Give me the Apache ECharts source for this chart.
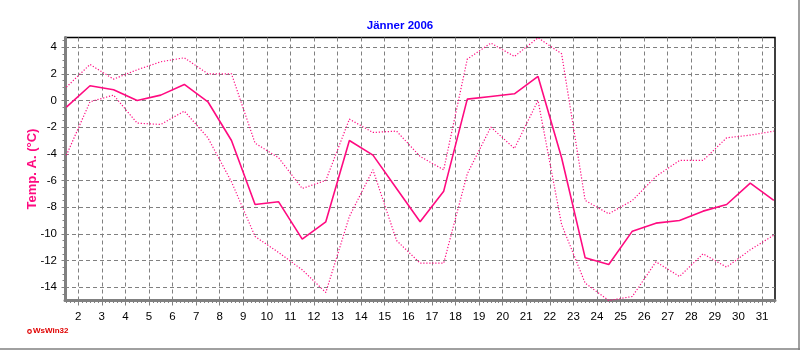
<!DOCTYPE html>
<html>
<head>
<meta charset="utf-8">
<script src="https://cdn.jsdelivr.net/npm/echarts@6/dist/echarts.min.js"></script>
<style>
  html, body { margin: 0; padding: 0; background: #fff; }
  #chart { width: 800px; height: 350px; }
</style>
</head>
<body>
<div id="chart"></div>
<script>
// Tag im Januar 2006 (Messwert jeweils Tagesmitte)
const days = [1, 2, 3, 4, 5, 6, 7, 8, 9, 10, 11, 12, 13, 14, 15, 16, 17, 18, 19, 20, 21, 22, 23, 24, 25, 26, 27, 28, 29, 30, 31]
// Temperatur aussen, Mittel / Max / Min (°C)
const tempMean = [-0.5, 1.1, 0.8, 0.0, 0.4, 1.2, -0.1, -3.0, -7.8, -7.6, -10.4, -9.1, -3.0, -4.1, -6.6, -9.1, -6.8, 0.1, 0.3, 0.5, 1.8, -4.3, -11.8, -12.3, -9.8, -9.2, -9.0, -8.3, -7.8, -6.2, -7.5]
const tempMax = [1.0, 2.7, 1.6, 2.3, 2.9, 3.2, 2.0, 2.0, -3.2, -4.3, -6.6, -6.0, -1.4, -2.4, -2.3, -4.2, -5.2, 3.1, 4.3, 3.3, 4.7, 3.5, -7.5, -8.5, -7.5, -5.7, -4.5, -4.5, -2.8, -2.6, -2.3]
const tempMin = [-4.1, -0.1, 0.4, -1.7, -1.8, -0.8, -2.8, -6.1, -10.2, -11.4, -12.7, -14.4, -8.7, -5.2, -10.5, -12.2, -12.2, -5.5, -2.0, -3.6, 0.0, -9.3, -13.7, -15.0, -14.7, -12.1, -13.2, -11.5, -12.5, -11.2, -10.1]

// Achsenbeschriftung
const xTickLabels = [2, 3, 4, 5, 6, 7, 8, 9, 10, 11, 12, 13, 14, 15, 16, 17, 18, 19, 20, 21, 22, 23, 24, 25, 26, 27, 28, 29, 30, 31]
const yTickLabels = [-14, -12, -10, -8, -6, -4, -2, 0, 2, 4]

const X_MIN = 1.44
const X_MAX = 31.55
const Y_MIN = -15
const Y_MAX = 4.72

const lineColor = '#ff0a80'
const gridColor = '#808080'

// kleine Striche: alle 4 Stunden bzw. alle 0,5 °C
const xMinorTicks = []
for (let d = 1; d <= 31; d++) {
  for (let j = 1; j < 6; j++) {
    const v = d + j / 6
    if (v > X_MIN && v < X_MAX) xMinorTicks.push(v)
  }
}
const yMinorTicks = []
for (let v = Y_MIN + 0.5; v < Y_MAX; v += 0.5) yMinorTicks.push(v)

const toPoints = (values) => days.map((d, i) => [d + 0.5, values[i]])

const chart = echarts.init(document.getElementById('chart'))

const option = {
  animation: false,
  backgroundColor: '#fff',
  title: {
    text: 'Jänner 2006',
    left: 'center',
    top: 15,
    textStyle: {
      color: '#0000ff',
      fontFamily: 'Liberation Sans',
      fontWeight: 'bold',
      fontSize: 11.5
    }
  },
  grid: {
    left: 65,
    right: 25,
    top: 37.5,
    bottom: 49.5,
    show: true,
    borderColor: '#000',
    borderWidth: 1.5,
    containLabel: false
  },
  xAxis: [
    {
      type: 'value',
      min: X_MIN,
      max: X_MAX,
      position: 'bottom',
      axisLine: { onZero: false, lineStyle: { color: gridColor, width: 3 } },
      axisTick: {
        customValues: xTickLabels,
        length: 5,
        lineStyle: { color: gridColor, width: 1 }
      },
      axisLabel: {
        customValues: xTickLabels,
        color: '#000',
        fontFamily: 'Liberation Sans',
        fontSize: 11.5,
        margin: 10
      },
      splitLine: {
        show: true,
        lineStyle: { color: gridColor, type: [4, 3], width: 1 }
      }
    },
    {
      type: 'value',
      min: X_MIN,
      max: X_MAX,
      position: 'bottom',
      axisLine: { show: false, onZero: false },
      axisTick: {
        show: true,
        customValues: xMinorTicks,
        length: 2.5,
        lineStyle: { color: gridColor, width: 1 }
      },
      axisLabel: { show: false },
      splitLine: { show: false }
    }
  ],
  yAxis: [
    {
      type: 'value',
      min: Y_MIN,
      max: Y_MAX,
      position: 'left',
      name: 'Temp. A. (°C)',
      nameLocation: 'middle',
      nameGap: 26,
      nameMoveOverlap: false,
      nameTextStyle: {
        color: lineColor,
        fontFamily: 'Liberation Sans',
        fontWeight: 'bold',
        fontSize: 13
      },
      axisLine: { show: true, onZero: false, lineStyle: { color: gridColor, width: 3 } },
      axisTick: {
        show: true,
        customValues: yTickLabels,
        length: 3.5,
        lineStyle: { color: gridColor, width: 1 }
      },
      axisLabel: {
        customValues: yTickLabels,
        color: '#000',
        fontFamily: 'Liberation Sans',
        fontSize: 11.5,
        margin: 8
      },
      splitLine: {
        show: true,
        lineStyle: { color: gridColor, type: [4, 3], width: 1 }
      }
    },
    {
      type: 'value',
      min: Y_MIN,
      max: Y_MAX,
      position: 'left',
      axisLine: { show: false, onZero: false },
      axisTick: {
        show: true,
        customValues: yMinorTicks,
        length: 2.5,
        lineStyle: { color: gridColor, width: 1 }
      },
      axisLabel: { show: false },
      splitLine: { show: false }
    }
  ],
  series: [
    {
      name: 'Max',
      type: 'line',
      data: toPoints(tempMax),
      symbol: 'none',
      lineStyle: { color: lineColor, width: 1.2, type: [1.2, 1.8] }
    },
    {
      name: 'Mittel',
      type: 'line',
      data: toPoints(tempMean),
      symbol: 'none',
      lineStyle: { color: lineColor, width: 1.6 }
    },
    {
      name: 'Min',
      type: 'line',
      data: toPoints(tempMin),
      symbol: 'none',
      lineStyle: { color: lineColor, width: 1.2, type: [1.2, 1.8] }
    }
  ],
  graphic: [
    // Rahmen rechts und unten
    { type: 'line', shape: { x1: 799, y1: 0, x2: 799, y2: 350 }, style: { stroke: gridColor, lineWidth: 1.5 } },
    { type: 'line', shape: { x1: 0, y1: 349, x2: 800, y2: 349 }, style: { stroke: gridColor, lineWidth: 1.5 } },
    // WsWin32 Logo
    { type: 'circle', shape: { cx: 29.5, cy: 331.5, r: 1.8 }, style: { fill: 'none', stroke: '#e00000', lineWidth: 1.2 } },
    {
      type: 'text',
      left: 33,
      top: 327,
      style: {
        text: 'WsWin32',
        fill: '#e00000',
        font: 'bold 8px "Liberation Sans"'
      }
    }
  ]
}

chart.setOption(option)
</script>
</body>
</html>
